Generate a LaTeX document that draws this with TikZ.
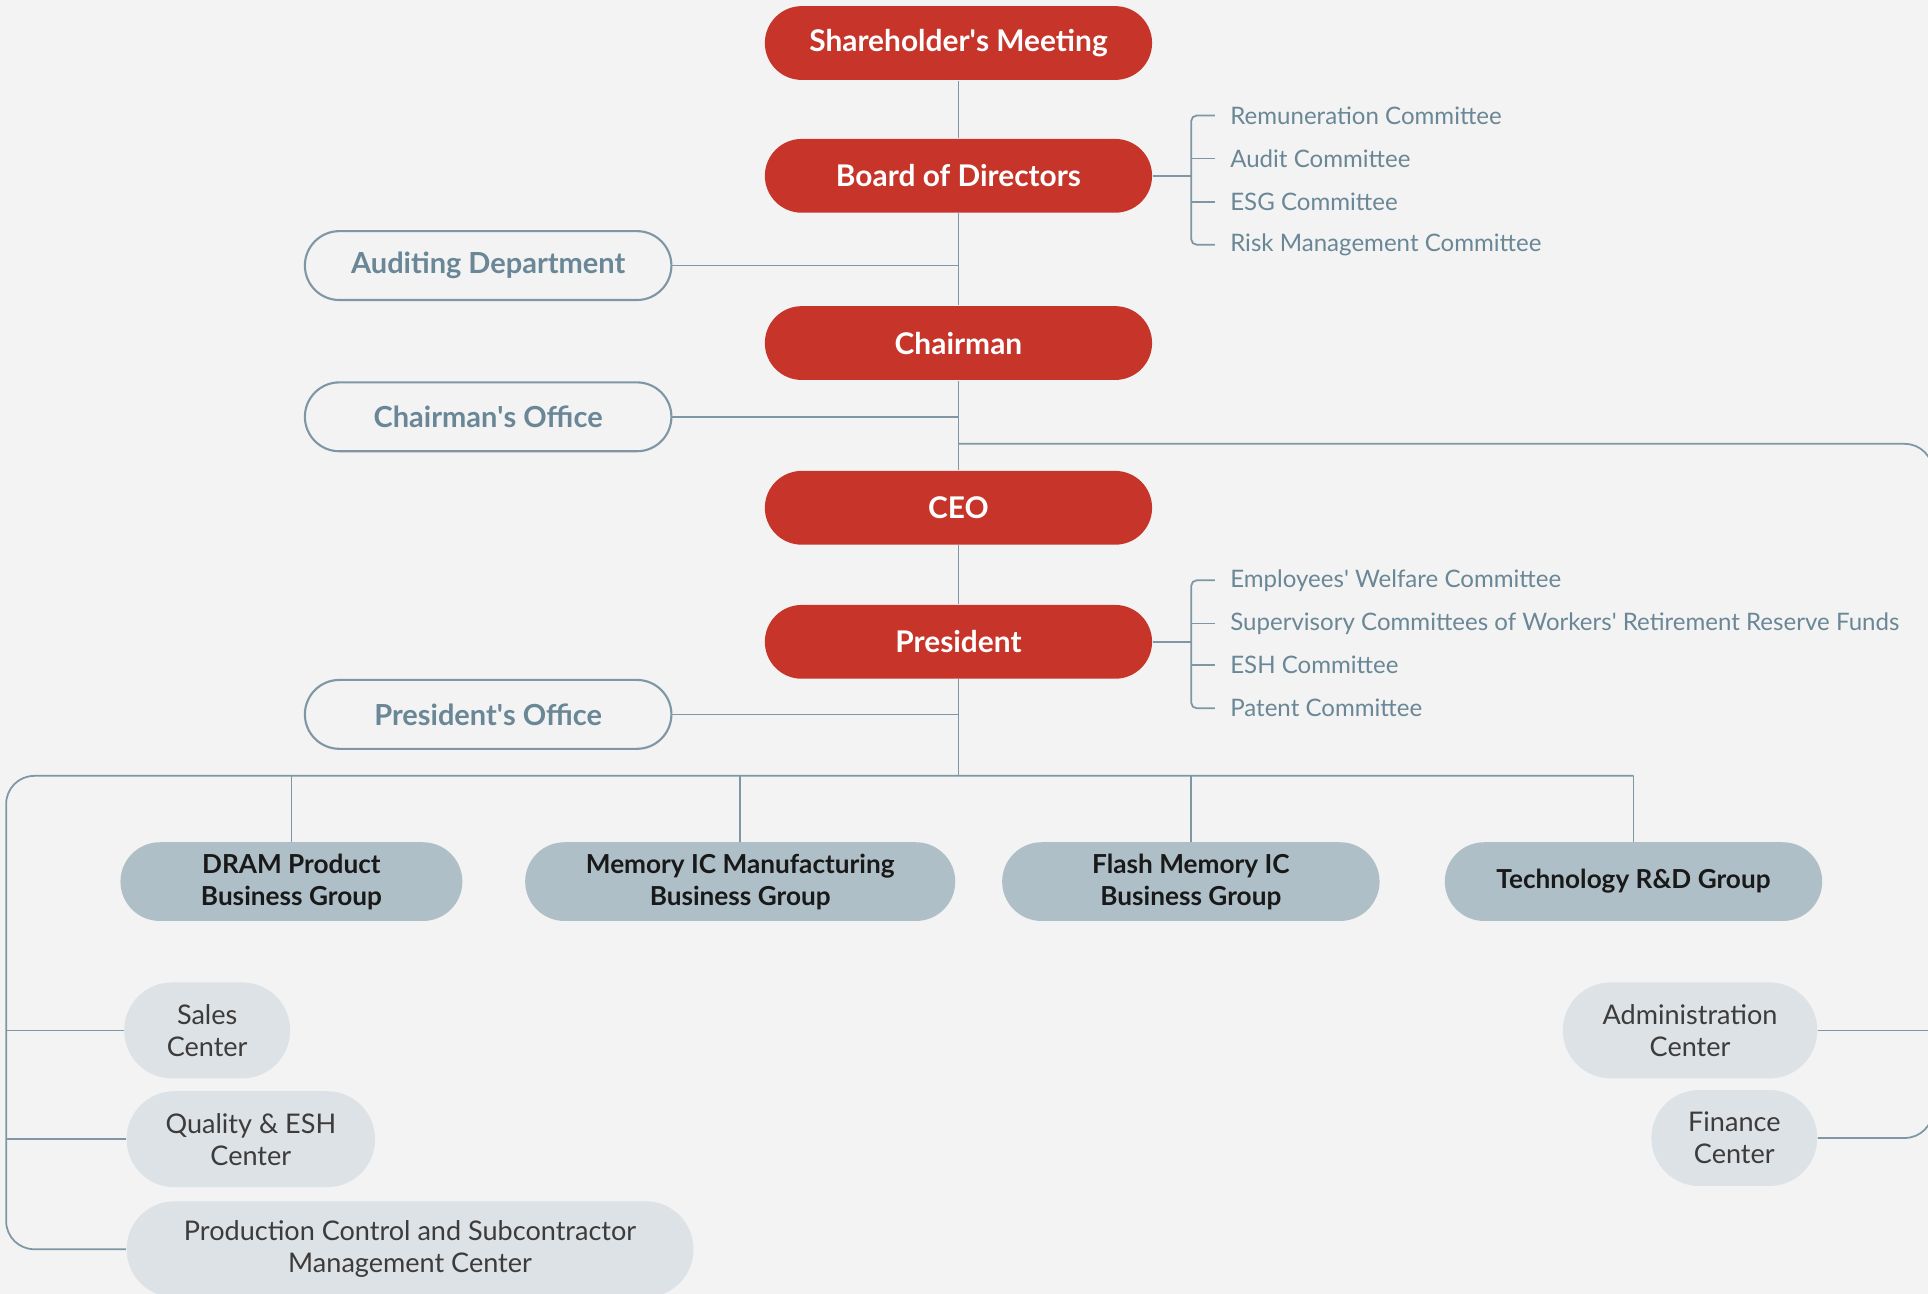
\documentclass[tikz,border=0pt]{standalone}
\usepackage{fontspec}
\setmainfont{Lato}
\usepackage{xcolor}
\usetikzlibrary{calc}
\definecolor{bgc}{HTML}{F2F3F2}
\definecolor{topred}{HTML}{C6342A}
\definecolor{slate}{HTML}{6A8797}
\definecolor{linec}{HTML}{7F97A4}
\definecolor{groupc}{HTML}{AFBFC8}
\definecolor{centerc}{HTML}{DCE2E6}
\definecolor{inkc}{HTML}{3E3B3B}
\newcommand{\sq}{\textquotesingle}

\begin{document}
\begin{tikzpicture}[x=0.012296cm, y=-0.012296cm,
	top/.style={fill=topred, text=white, rounded corners=10.5pt, minimum width=110.2pt, minimum height=21pt, inner sep=0pt, font=\fontsize{8.5}{10}\selectfont\bfseries},
	office/.style={draw=linec, line width=0.6pt, fill=bgc, text=slate, rounded corners=9.8pt, minimum width=104.3pt, minimum height=19.6pt, inner sep=0pt, font=\fontsize{8.25}{10}\selectfont\bfseries},
	cmt/.style={anchor=west, inner sep=0pt, text=slate, font=\fontsize{6.85}{9}\selectfont},
	grp/.style={fill=groupc, text=black!90, rounded corners=11.2pt, minimum width=#1, minimum height=22.4pt, inner sep=0pt, align=center, font=\fontsize{7.45}{9.1}\selectfont\bfseries},
	ctr/.style={fill=centerc, text=inkc, rounded corners=13.6pt, minimum width=#1, minimum height=27.3pt, inner sep=0pt, align=center, font=\fontsize{7.7}{9.1}\selectfont},
	link/.style={draw=linec, line width=0.5pt}]
\useasboundingbox (0,0) rectangle (1568,1052);
\fill[bgc] (0,0) rectangle (1568,1052);

% main line
\node[top] (share) at (779.5,35) {Shareholder\sq s Meeting};
\node[top] (board) at (779.5,143) {Board of Directors};
\node[top] (chair) at (779.5,279) {Chairman};
\node[top] (ceo) at (779.5,413) {CEO};
\node[top] (pres) at (779.5,522) {President};

\node[office] (audit) at (397,216) {Auditing Department};
\node[office] (choff) at (397,339) {Chairman\sq s Office};
\node[office] (proff) at (397,581) {President\sq s Office};

\coordinate (busmid) at (779.5,631);
\coordinate (lft) at (5,631);
\coordinate (rgt) at (1572,361);

% committees
\foreach \t/\y [count=\k] in {Remuneration Committee/94, Audit Committee/129, ESG Committee/164, Risk Management Committee/199}
{	\node[cmt] (bc\k) at (1000,\y) {\t};
}
\foreach \t/\y [count=\k] in {Employees\sq\ Welfare Committee/472, Supervisory Committees of Workers\sq\ Retirement Reserve Funds/507, ESH Committee/541, Patent Committee/576}
{	\node[cmt] (pc\k) at (1000,\y) {\t};
}

% groups and centers
\node[grp=97.3pt] (dram) at (237,717) {DRAM Product\\Business Group};
\node[grp=122.4pt] (mem) at (602,717) {Memory IC Manufacturing\\Business Group};
\node[grp=107.4pt] (flash) at (968.5,717) {Flash Memory IC\\Business Group};
\node[grp=107.4pt] (tech) at (1328.5,717) {Technology R\&D Group};

\node[ctr=47.2pt] (sales) at (168.5,838) {Sales\\Center};
\node[ctr=70.7pt] (qual) at (204,926.5) {Quality \& ESH\\Center};
\node[ctr=161.3pt] (prod) at (333.5,1016) {Production Control and Subcontractor\\Management Center};
\node[ctr=72.4pt] (admin) at (1374.5,838) {Administration\\Center};
\node[ctr=47.2pt] (fin) at (1410.5,925.5) {Finance\\Center};

% connectors
\draw[link] (share) -- (board) -- (chair) -- (ceo) -- (pres) -- (busmid);
\foreach \o in {audit,choff,proff}
{	\draw[link] (\o.east) -- (\o.east -| busmid);
}
\draw[link] (board.east) -- ++(32,0);
\draw[link] (pres.east) -- ++(32,0);
\foreach \c in {bc,pc}
{	\draw[link, rounded corners=1.5pt] ([xshift=-4.2pt]\c1.west) -| ([xshift=-10.9pt]\c4.west) -- ([xshift=-4.2pt]\c4.west);
	\draw[link] ([xshift=-4.2pt]\c2.west) -- ([xshift=-10.9pt]\c2.west);
	\draw[link] ([xshift=-4.2pt]\c3.west) -- ([xshift=-10.9pt]\c3.west);
}
\foreach \g in {dram,mem,flash,tech}
{	\draw[link] (\g.north) -- (\g.north |- busmid);
}
\draw[link, rounded corners=8pt] (tech.north |- busmid) -| (prod.west -| lft) -- (prod.west);
\draw[link] (sales.west) -- (sales.west -| lft);
\draw[link] (qual.west) -- (qual.west -| lft);
\draw[link, rounded corners=8pt] (busmid |- rgt) -- (rgt) |- (fin.east);
\draw[link] (admin.east) -- (admin.east -| rgt);
\end{tikzpicture}
\end{document}
